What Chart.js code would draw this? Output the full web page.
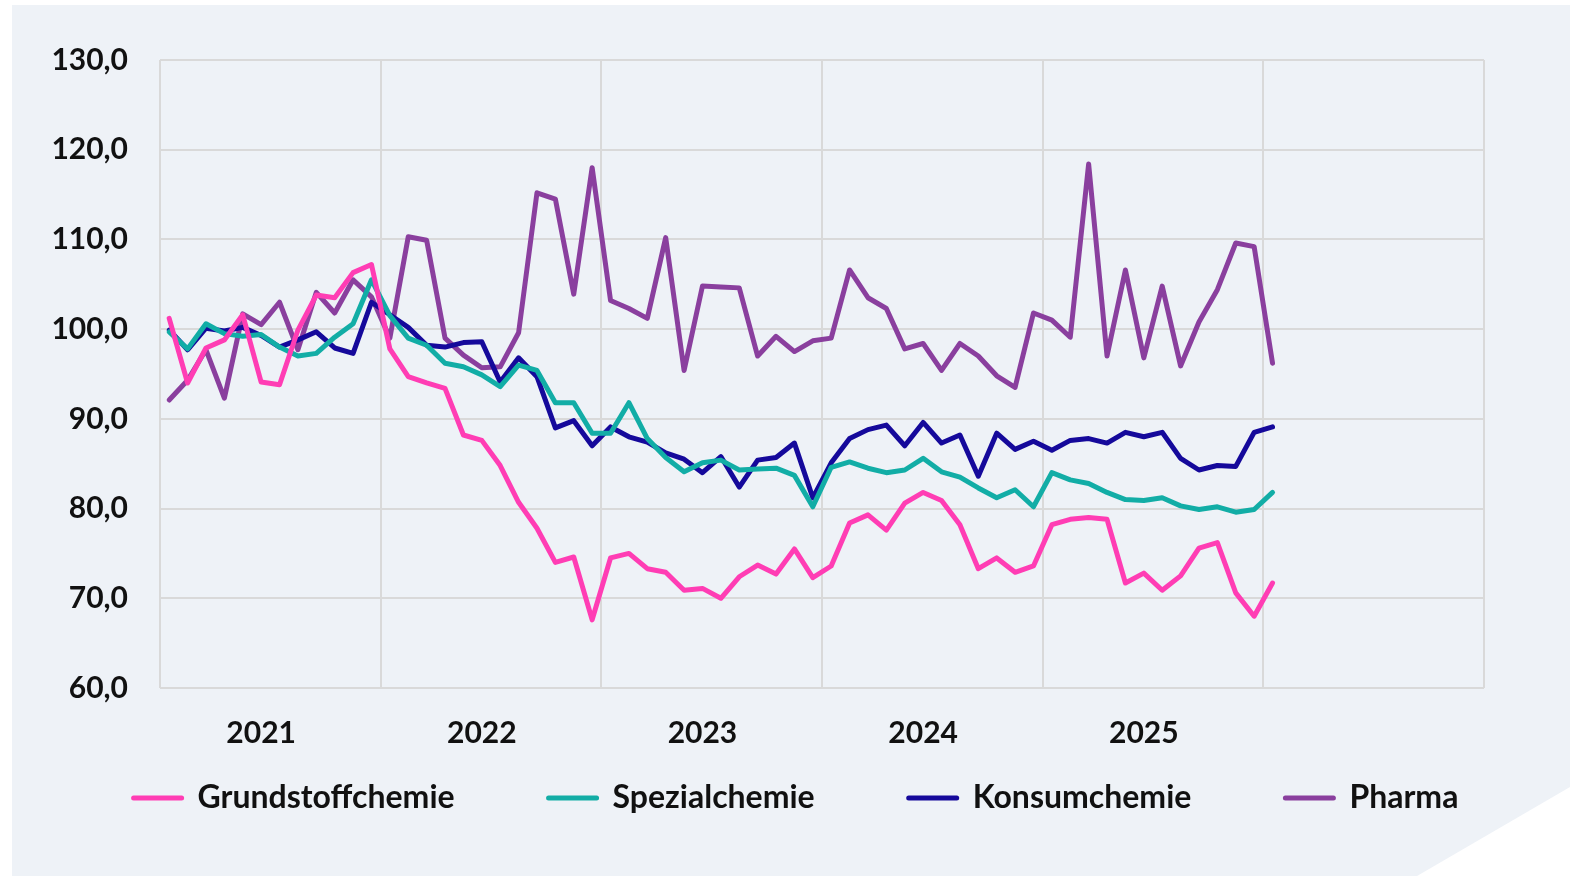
<!DOCTYPE html>
<html lang="de">
<head>
<meta charset="utf-8">
<title>Produktion nach Sparten</title>
<script src="https://cdn.jsdelivr.net/npm/chart.js@4.4.1/dist/chart.umd.min.js"></script>
<style>
  html, body { margin: 0; padding: 0; background: #fff; }
  canvas { display: block; }
</style>
</head>
<body>
<canvas id="myChart" width="1570" height="876"></canvas>
<script>
// Monatswerte Jan 2021 .. Jan 2026, Index
var years  = ['2021', '2022', '2023', '2024', '2025'];
var yTicks = [60, 70, 80, 90, 100, 110, 120, 130];

var grundstoff = [
	101.2, 94.0, 97.9, 98.8, 101.6, 94.1, 93.8, 99.9, 103.8, 103.5, 106.3, 107.2,
	97.8, 94.7, 94.0, 93.4, 88.2, 87.6, 84.8, 80.7, 77.8, 74.0, 74.6, 67.6,
	74.5, 75.0, 73.3, 72.9, 70.9, 71.1, 70.0, 72.4, 73.7, 72.7, 75.5, 72.3,
	73.6, 78.4, 79.3, 77.6, 80.6, 81.8, 80.9, 78.2, 73.3, 74.5, 72.9, 73.6,
	78.2, 78.8, 79.0, 78.8, 71.7, 72.8, 70.9, 72.5, 75.6, 76.2, 70.6, 68.0,
	71.7
];
var spezial = [
	99.7, 97.8, 100.6, 99.5, 99.2, 99.4, 98.0, 97.0, 97.3, 99.1, 100.6, 105.5,
	101.5, 99.0, 98.2, 96.2, 95.8, 94.9, 93.6, 96.0, 95.4, 91.8, 91.8, 88.4,
	88.4, 91.8, 87.8, 85.7, 84.1, 85.1, 85.4, 84.3, 84.4, 84.5, 83.7, 80.2,
	84.6, 85.2, 84.5, 84.0, 84.3, 85.6, 84.1, 83.5, 82.3, 81.2, 82.1, 80.2,
	84.0, 83.2, 82.8, 81.8, 81.0, 80.9, 81.2, 80.3, 79.9, 80.2, 79.6, 79.9,
	81.8
];
var konsum = [
	99.9, 97.7, 100.1, 99.8, 100.2, 99.3, 98.0, 98.8, 99.7, 97.9, 97.3, 103.0,
	101.6, 100.2, 98.2, 98.0, 98.5, 98.6, 94.1, 96.8, 94.7, 89.0, 89.8, 87.0,
	89.1, 88.0, 87.4, 86.2, 85.5, 84.0, 85.8, 82.4, 85.4, 85.7, 87.3, 81.2,
	85.1, 87.8, 88.8, 89.3, 87.0, 89.6, 87.3, 88.2, 83.6, 88.4, 86.6, 87.5,
	86.5, 87.6, 87.8, 87.3, 88.5, 88.0, 88.5, 85.6, 84.3, 84.8, 84.7, 88.5,
	89.1
];
var pharma = [
	92.1, 94.3, 97.7, 92.3, 101.7, 100.5, 103.0, 97.7, 104.1, 101.8, 105.5, 103.6,
	99.0, 110.3, 109.9, 99.0, 97.1, 95.7, 95.8, 99.6, 115.2, 114.5, 103.9, 118.0,
	103.2, 102.3, 101.2, 110.2, 95.4, 104.8, 104.7, 104.6, 97.0, 99.2, 97.5, 98.7,
	99.0, 106.6, 103.5, 102.3, 97.8, 98.4, 95.4, 98.4, 97.0, 94.8, 93.5, 101.8,
	101.0, 99.1, 118.4, 97.0, 106.6, 96.8, 104.8, 95.9, 100.8, 104.4, 109.6, 109.2,
	96.2
];

var names  = ['Grundstoffchemie', 'Spezialchemie', 'Konsumchemie', 'Pharma'];
var colors = ['#ff3db4', '#12ada6', '#15099b', '#8a3f9e'];

var tickFont   = { family: 'Lato', weight: 'bold', size: 30 };
var legendFont = { family: 'Lato', weight: 'bold', size: 32 };
var textColor = '#111111';
var gridColor = '#d9d9d9';

// month i is drawn in the middle of its slot
function toPoints(values) {
	return values.map(function(v, i) { return { x: i + 0.5, y: v }; });
}

// light panel with the cut-off corner at the bottom right
var panel = {
	id: 'panel',
	beforeDraw: function(chart) {
		var c = chart.ctx;
		c.save();
		c.fillStyle = '#eef2f7';
		c.fillRect(12, 5, chart.width - 12, chart.height - 5);
		c.fillStyle = '#ffffff';
		c.beginPath();
		c.moveTo(chart.width, 787);
		c.lineTo(chart.width, chart.height);
		c.lineTo(1417, chart.height);
		c.closePath();
		c.fill();
		c.restore();
	}
};

var ctx = document.getElementById('myChart').getContext('2d');

new Chart(ctx, {
	type: 'line',
	data: {
		datasets: [grundstoff, spezial, konsum, pharma].map(function(vals, k) {
			return {
				label: names[k],
				data: toPoints(vals),
				borderColor: colors[k],
				backgroundColor: colors[k],
				borderWidth: 5,
				borderJoinStyle: 'round',
				borderCapStyle: 'round',
				pointRadius: 0,
				tension: 0
			};
		})
	},
	options: {
		responsive: false,
		animation: false,
		events: [],
		layout: { padding: { left: 22, right: 0, top: 60, bottom: 52 } },
		plugins: {
			tooltip: { enabled: false },
			legend: {
				position: 'bottom',
				labels: {
					usePointStyle: true,
					pointStyleWidth: 48,
					padding: 94,
					color: textColor,
					font: legendFont,
					generateLabels: function(chart) {
						return chart.data.datasets.map(function(ds, i) {
							return {
								text: ds.label,
								fillStyle: ds.borderColor,
								strokeStyle: ds.borderColor,
								lineWidth: 5,
								lineCap: 'round',
								pointStyle: 'line',
								fontColor: textColor,
								datasetIndex: i
							};
						});
					}
				}
			}
		},
		scales: {
			x: {
				type: 'linear',
				// hung on the 60 line so the legend can sit right under the plot
				position: { y: 60 },
				min: 0,
				max: 72,
				// grid at each year start, year label just left of mid-year
				afterBuildTicks: function(s) {
					var t = [];
					for (var v = 0; v <= 72; v += 12) {
						t.push({ value: v });
						if (v < 72) t.push({ value: v + 5.5 });
					}
					s.ticks = t;
				},
				ticks: {
					autoSkip: false,
					maxRotation: 0,
					padding: 27,
					color: textColor,
					font: tickFont,
					callback: function(v) {
						return v % 12 === 5.5 ? (years[(v - 5.5) / 12] || '') : '';
					}
				},
				grid: {
					drawTicks: false,
					lineWidth: 2,
					color: function(c) {
						return c.tick && c.tick.value % 12 === 0 ? gridColor : 'rgba(0,0,0,0)';
					}
				},
				border: { display: false }
			},
			y: {
				min: 60,
				max: 130,
				afterBuildTicks: function(s) {
					s.ticks = yTicks.map(function(v) { return { value: v }; });
				},
				afterFit: function(s) { s.width = 138; },
				ticks: {
					padding: 32,
					color: textColor,
					font: tickFont,
					callback: function(v) { return v.toFixed(1).replace('.', ','); }
				},
				grid: { drawTicks: false, lineWidth: 2, color: gridColor },
				border: { display: false }
			},
			// empty strip on the right of the plot
			rightGap: {
				type: 'linear',
				position: 'right',
				afterFit: function(s) { s.width = 86; },
				ticks: { display: false },
				grid: { display: false },
				border: { display: false }
			}
		}
	},
	plugins: [panel]
});
</script>
</body>
</html>
